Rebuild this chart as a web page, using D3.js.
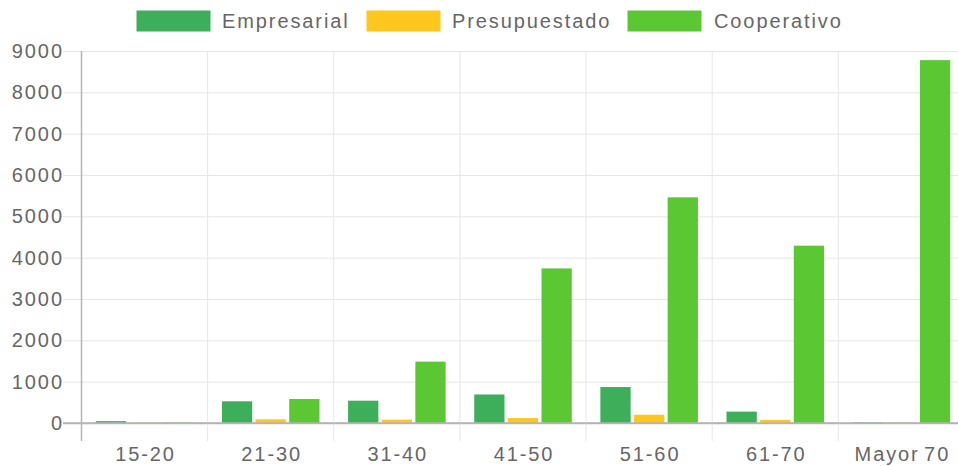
<!DOCTYPE html>
<html><head><meta charset="utf-8">
<script src="https://cdn.jsdelivr.net/npm/d3@7"></script>
<style>
html,body{margin:0;padding:0;background:#fff;overflow:hidden}
svg{display:block;font-family:"Liberation Sans",Arial,sans-serif}
text{letter-spacing:1.9px}
</style></head>
<body><svg id="c" width="958" height="466"></svg>
<script>
const categories = ["15-20","21-30","31-40","41-50","51-60","61-70","Mayor 70"];
const seriesNames = ["Empresarial","Presupuestado","Cooperativo"];
const empresarial = [45, 525, 540, 690, 870, 275, 15];
const presupuestado = [8, 90, 80, 120, 200, 75, 10];
const cooperativo = [12, 580, 1485, 3740, 5460, 4290, 8780];
const yTicks = [0,1000,2000,3000,4000,5000,6000,7000,8000,9000];
const colors = ["#3daf5a","#ffc61e","#5bc833"];

(function(){
const series = [empresarial, presupuestado, cooperativo];
const svg = d3.select("#c");
const L = 81.5, R = 964.5, T = 51, B = 423;
const FS = 20, LS = 1.9;

const x = d3.scaleBand().domain(categories).range([L, R]).paddingInner(0).paddingOuter(0);
const x1 = d3.scaleBand().domain(seriesNames).range([0, x.bandwidth()*0.8]).paddingInner(0.1).paddingOuter(0.05);
const y = d3.scaleLinear().domain([0, 9000]).range([B, T]);

// horizontal gridlines + ticks
const yAxis = d3.axisLeft(y).tickValues(yTicks).tickSize(R - 63).tickPadding(4).tickFormat(d3.format("d"));
const gy = svg.append("g").attr("transform", `translate(${R},0)`).call(yAxis);
gy.select(".domain").remove();
gy.selectAll(".tick line").attr("stroke", d => d === 0 ? "#b5b5b5" : "#e6e6e6").attr("stroke-width", d => d===0?1.5:1);
gy.selectAll(".tick text").attr("x", -(R - 62 - LS)).attr("fill", "#666").attr("font-size", FS).attr("text-anchor","end")
  .attr("font-family","Liberation Sans, Arial, sans-serif");

// vertical gridlines at category boundaries
const bounds = categories.map(c => x(c)).concat([R]);
svg.append("g").selectAll("line").data(bounds).join("line")
  .attr("x1", d => d).attr("x2", d => d)
  .attr("y1", T).attr("y2", 441)
  .attr("stroke", (d,i) => i === 0 ? "#b5b5b5" : "#e6e6e6")
  .attr("stroke-width", (d,i) => i===0 ? 1.5 : 1);

// x labels
const xAxis = d3.axisBottom(x).tickSize(0).tickPadding(0);
const gx = svg.append("g").attr("transform", `translate(0,${B})`).call(xAxis);
gx.select(".domain").remove();
gx.selectAll(".tick text").attr("x", LS/2).attr("y", 38).attr("dy", 0).attr("fill","#666").attr("font-size",FS).attr("font-family","Liberation Sans, Arial, sans-serif")
  .style("word-spacing", "-3px");

// bars
const groups = svg.append("g").selectAll("g").data(categories).join("g")
  .attr("transform", c => `translate(${x(c) + x.bandwidth()*0.1},0)`);
groups.selectAll("rect").data((c, ci) => seriesNames.map((s, si) => ({s, si, v: series[si][ci]})))
  .join("rect")
  .attr("x", d => x1(d.s))
  .attr("width", x1.bandwidth())
  .attr("y", d => y(d.v))
  .attr("height", d => B - y(d.v))
  .attr("fill", d => colors[d.si]);

// redraw zero line over bars
svg.append("line").attr("x1", 63).attr("x2", R).attr("y1", B).attr("y2", B)
  .attr("stroke","#b5b5b5").attr("stroke-width",1.5);

// legend
const legendItems = [{x:136, tx:222},{x:366, tx:452},{x:627, tx:714}];
const lg = svg.append("g").selectAll("g").data(seriesNames).join("g");
lg.append("rect").attr("x", (d,i) => legendItems[i].x).attr("y", 10).attr("width", 75).attr("height", 22)
  .attr("fill", (d,i) => colors[i]).attr("stroke","#fff").attr("stroke-width",1);
lg.append("text").attr("x", (d,i) => legendItems[i].tx).attr("y", 28).attr("fill","#666").attr("font-size",FS)
  .text(d => d);
})();
</script></body></html>
